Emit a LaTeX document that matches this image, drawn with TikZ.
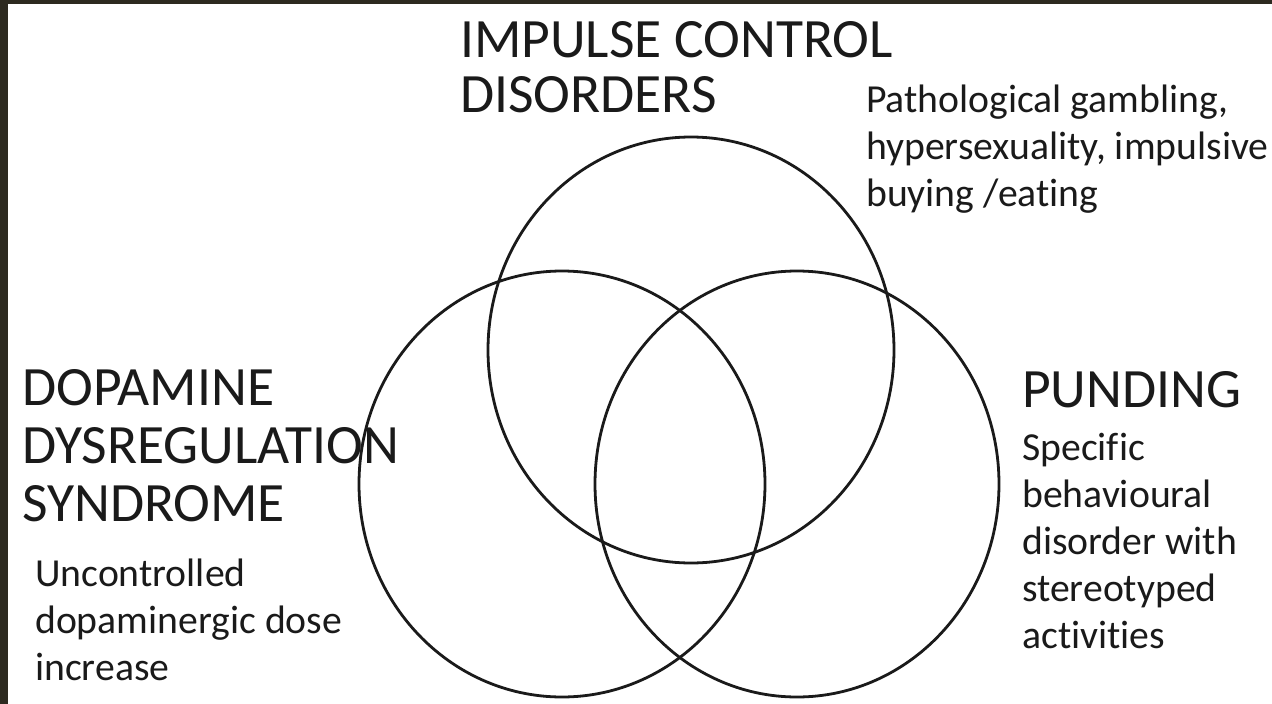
\documentclass[tikz,border=0pt]{standalone}
\usepackage{fontspec}
\setmainfont[Ligatures=CommonOff]{Carlito}
\definecolor{framecol}{HTML}{2D2A20}
\definecolor{txt}{HTML}{1A1A1A}
\tikzset{
  ring/.style={draw=txt, line width=2.8pt},
  bigtitle/.style={anchor=base west, align=left, inner sep=0pt, text=txt,
     font=\fontsize{55.5}{55}\selectfont},
  smalltext/.style={anchor=base west, align=left, inner sep=0pt, text=txt,
     font=\fontsize{39.7}{46.8}\selectfont},
}
\begin{document}
\begin{tikzpicture}[x=1pt,y=-1pt]
\useasboundingbox (0,0) rectangle (1272,704);
\fill[white] (0,0) rectangle (1272,704);
\fill[framecol] (0,0) rectangle (8,704);
\fill[framecol] (0,0) rectangle (1272,4);
% circles
\draw[ring] (691,350) ellipse [x radius=203, y radius=213];
\draw[ring] (562,484) ellipse [x radius=203, y radius=213];
\draw[ring] (797,484) ellipse [x radius=202, y radius=213];
% titles (anchor = baseline of last line)
\node[bigtitle] (icd) at (460,112) {IMPULSE CONTROL\\DISORDERS};
\node[bigtitle, font=\fontsize{55.5}{58}\selectfont] (dds) at (22,521) {DOPAMINE\\DYSREGULATION\\SYNDROME};
\node[bigtitle] (pun) at (1022,407) {PUNDING};
% descriptions
\node[smalltext] (icdt) at (866,206) {Pathological gambling,\\hypersexuality, impulsive\\buying /eating};
\node[smalltext] (ddst) at (35,680) {Uncontrolled\\dopaminergic dose\\increase};
\node[smalltext, font=\fontsize{39.7}{47}\selectfont] (punt) at (1022,648) {Specific\\behavioural\\disorder with\\stereotyped\\activities};
\end{tikzpicture}
\end{document}
